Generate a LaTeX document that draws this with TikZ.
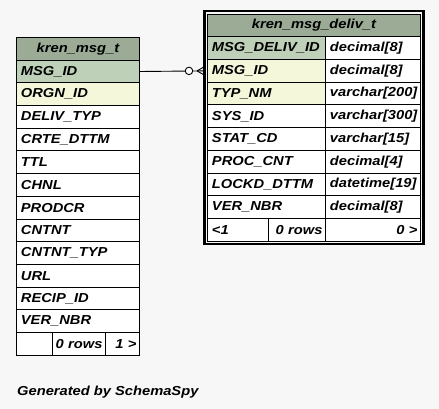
\documentclass[tikz,border=0pt]{standalone}
\usepackage{fontspec}
\newfontfamily\schemafont{Liberation Sans}[FakeStretch=1.13]
\usetikzlibrary{positioning,fit}
\definecolor{SPYback}{HTML}{F7F7F7}
\definecolor{SPYhead}{HTML}{9BAB96}
\definecolor{SPYkey}{HTML}{BED1B8}
\definecolor{SPYindex}{HTML}{F4F7DA}

\begin{document}
\begin{tikzpicture}[x=1pt, y=-1pt,
			cell/.style={rectangle, draw=black, line width=0.9pt, fill=white,
				anchor=north west, inner xsep=4.5pt, inner ysep=0pt,
				minimum height=22.7pt, align=left,
				font=\schemafont\bfseries\itshape\fontsize{13}{15}\selectfont},
			head/.style={cell, fill=SPYhead, align=center},
			pk/.style={cell, fill=SPYkey},
			fk/.style={cell, fill=SPYindex},
			tail/.style={cell, align=right, inner xsep=3pt},
			rel/.style={line width=0.9pt, black},
			ring/.style={circle, draw=black, line width=0.9pt, fill=white,
				inner sep=0pt, minimum size=7.5pt}]
			
			\fill[SPYback] (0,0) rectangle (439,409);
			\useasboundingbox (0,0) rectangle (439,409);
			
			% kren_msg_t
			\node[head, text width=114pt] (msg) at (16,37) {kren\_msg\_t};
			\node[pk, text width=114pt] (msgid) at (16,59.7) {MSG\_ID};
			\node[fk, text width=114pt] (orgn) at (16,82.4) {ORGN\_ID};
			\node[cell, text width=114pt] (delivtyp) at (16,105.1) {DELIV\_TYP};
			\node[cell, text width=114pt] (crte) at (16,127.8) {CRTE\_DTTM};
			\node[cell, text width=114pt] (ttl) at (16,150.5) {TTL};
			\node[cell, text width=114pt] (chnl) at (16,173.2) {CHNL};
			\node[cell, text width=114pt] (prodcr) at (16,195.9) {PRODCR};
			\node[cell, text width=114pt] (cntnt) at (16,218.6) {CNTNT};
			\node[cell, text width=114pt] (cntnttyp) at (16,241.3) {CNTNT\_TYP};
			\node[cell, text width=114pt] (url) at (16,264) {URL};
			\node[cell, text width=114pt] (recip) at (16,286.7) {RECIP\_ID};
			\node[cell, text width=114pt] (vernbr) at (16,309.4) {VER\_NBR};
			\node[cell, text width=27pt] (mf1) at (16,332.1) {};
			\node[tail, text width=47pt] (mf2) at (52,332.1) {0~rows};
			\node[tail, text width=28pt] (mf3) at (105,332.1) {1~>};
			
			% kren_msg_deliv_t
			\node[head, text width=204pt] (deliv) at (207,13.7) {kren\_msg\_deliv\_t};
			\node[pk, text width=109pt] (dlvid) at (207,36.4) {MSG\_DELIV\_ID};
			\node[cell, text width=86pt] (dlvidT) at (325,36.4) {decimal[8]};
			\node[fk, text width=109pt] (dmsgid) at (207,59.1) {MSG\_ID};
			\node[cell, text width=86pt] (dmsgidT) at (325,59.1) {decimal[8]};
			\node[fk, text width=109pt] (typnm) at (207,81.8) {TYP\_NM};
			\node[cell, text width=86pt] (typnmT) at (325,81.8) {varchar[200]};
			\node[cell, text width=109pt] (sysid) at (207,104.5) {SYS\_ID};
			\node[cell, text width=86pt] (sysidT) at (325,104.5) {varchar[300]};
			\node[cell, text width=109pt] (statcd) at (207,127.2) {STAT\_CD};
			\node[cell, text width=86pt] (statcdT) at (325,127.2) {varchar[15]};
			\node[cell, text width=109pt] (proccnt) at (207,149.9) {PROC\_CNT};
			\node[cell, text width=86pt] (proccntT) at (325,149.9) {decimal[4]};
			\node[cell, text width=109pt] (lockd) at (207,172.6) {LOCKD\_DTTM};
			\node[cell, text width=86pt] (lockdT) at (325,172.6) {datetime[19]};
			\node[cell, text width=109pt] (dvernbr) at (207,195.3) {VER\_NBR};
			\node[cell, text width=86pt] (dvernbrT) at (325,195.3) {decimal[8]};
			\node[cell, text width=52pt] (rf1) at (207,218) {<1};
			\node[tail, text width=51pt] (rf2) at (268,218) {0~rows};
			\node[tail, text width=89pt] (rf3) at (325,218) {0~>};
			\node[fit=(deliv)(rf3), draw=black, line width=2.2pt, inner sep=2.6pt] (frame) {};
			
			% Relationship
			\coordinate (foot) at ([xshift=-3pt]dmsgid.west);
			\draw[rel] (msgid.east) -- (foot);
			\draw[rel] ([xshift=-7pt]foot) -- ([yshift=4pt]foot)
				([xshift=-7pt]foot) -- ([yshift=-4pt]foot);
			\node[ring] (ring) at ([xshift=-15pt]foot) {};
			
			\node[anchor=base west, inner sep=0pt,
				font=\schemafont\bfseries\itshape\fontsize{13}{15}\selectfont]
				(credit) at (17,395) {Generated by SchemaSpy};
		\end{tikzpicture}
\end{document}
